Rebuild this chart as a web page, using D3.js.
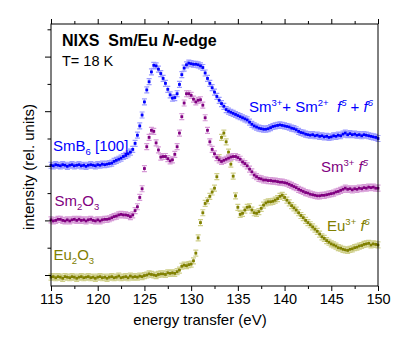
<!DOCTYPE html>
<html>
<head>
<meta charset="utf-8">
<script src="https://d3js.org/d3.v7.min.js"></script>
<style>
  body { margin: 0; background: #fff; }
  text { font-family: "Liberation Sans", Arial, Helvetica, sans-serif; }
</style>
</head>
<body>
<div id="chartContainer"></div>
<script>
// energy grid of the scans (eV), 0.25 eV steps from 115 to 150
var energy = d3.range(0, 141).map(function (i) { return 115 + i * 0.25; });

// intensities (rel. units, curves offset by 1)
// one row per eV: E, E+0.25, E+0.5, E+0.75
var smb6 = [
  2.01, 2.00, 2.02, 2.01,  2.00, 2.02, 2.01, 1.99,  2.01, 2.02, 2.00, 2.01,
  2.02, 2.00, 2.01, 1.99,  2.01, 2.02, 2.01, 2.00,  2.02, 2.01, 2.03, 2.02,
  2.03, 2.04, 2.05, 2.08,  2.10, 2.12, 2.14, 2.17,  2.19, 2.22, 2.25, 2.30,
  2.41, 2.56, 2.73, 2.93,  3.17, 3.39, 3.54, 3.72,  3.84, 3.83, 3.77, 3.69,
  3.60, 3.51, 3.40, 3.30,  3.24, 3.25, 3.32, 3.49,  3.67, 3.79, 3.85, 3.88,
  3.87, 3.86, 3.86, 3.85,  3.83, 3.80, 3.70, 3.60,  3.51, 3.43, 3.35, 3.27,
  3.20, 3.14, 3.09, 3.03,  3.00, 2.98, 2.96, 2.94,  2.92, 2.90, 2.88, 2.86,
  2.84, 2.80, 2.76, 2.73,  2.71, 2.69, 2.68, 2.67,  2.67, 2.68, 2.70, 2.72,
  2.73, 2.74, 2.75, 2.74,  2.73, 2.72, 2.71, 2.69,  2.68, 2.66, 2.63, 2.61,
  2.60, 2.58, 2.57, 2.56,  2.57, 2.55, 2.56, 2.54,  2.55, 2.53, 2.54, 2.52,
  2.53, 2.55, 2.54, 2.56,  2.55, 2.58, 2.60, 2.57,  2.59, 2.57, 2.58, 2.56,
  2.57, 2.55, 2.57, 2.56,  2.55, 2.54, 2.53, 2.52,
  2.50
];

var sm2o3 = [
  1.01, 0.99, 1.00, 1.02,  1.02, 1.00, 0.99, 1.01,  0.99, 1.01, 1.02, 1.00,
  1.02, 1.00, 1.01, 0.99,  1.01, 1.02, 1.00, 0.99,  1.01, 0.99, 1.01, 1.02,
  1.02, 1.03, 1.05, 1.07,  1.08, 1.10, 1.11, 1.10,  1.10, 1.09, 1.07, 1.10,
  1.18, 1.25, 1.42, 1.58,  1.95, 2.35, 2.52, 2.65,  2.63, 2.42, 2.29, 2.16,
  2.17, 2.17, 2.13, 2.09,  2.11, 2.21, 2.35, 2.60,  2.90, 3.15, 3.32, 3.32,
  3.29, 3.22, 3.17, 3.20,  3.21, 3.11, 2.88, 2.65,  2.44, 2.30, 2.22, 2.15,
  2.11, 2.08, 2.10, 2.12,  2.14, 2.16, 2.17, 2.17,  2.15, 2.12, 2.07, 2.04,
  2.00, 1.94, 1.89, 1.83,  1.80, 1.77, 1.76, 1.74,  1.74, 1.73, 1.73, 1.72,
  1.72, 1.71, 1.70, 1.70,  1.69, 1.68, 1.66, 1.64,  1.62, 1.60, 1.57, 1.55,
  1.53, 1.51, 1.50, 1.48,  1.47, 1.46, 1.45, 1.45,  1.46, 1.46, 1.47, 1.48,
  1.49, 1.50, 1.52, 1.53,  1.55, 1.57, 1.59, 1.57,  1.58, 1.56, 1.58, 1.57,
  1.59, 1.58, 1.60, 1.59,  1.61, 1.60, 1.61, 1.59,
  1.59
];

var eu2o3 = [
  -0.04, -0.03, -0.05, -0.03,  -0.04, -0.06, -0.03, -0.04,  -0.05, -0.03, -0.04, -0.06,
  -0.04, -0.03, -0.05, -0.04,  -0.03, -0.05, -0.04, -0.06,  -0.04, -0.03, -0.05, -0.04,
  -0.06, -0.04, -0.03, -0.05,  -0.04, -0.02, -0.05, -0.04,  -0.03, -0.05, -0.02, -0.04,
  -0.03, -0.04, -0.02, -0.03,  -0.01, 0.00, 0.02, 0.01,  0.00, -0.01, 0.01, 0.02,
  0.02, 0.01, 0.04, 0.03,  0.04, 0.03, 0.06, 0.09,  0.16, 0.18, 0.17, 0.19,
  0.20, 0.26, 0.40, 0.68,  0.96, 1.14, 1.31, 1.36,  1.44, 1.52, 1.59, 1.80,
  2.15, 2.52, 2.60, 2.44,  2.25, 2.03, 1.81, 1.45,  1.24, 1.11, 1.13, 1.19,
  1.24, 1.25, 1.19, 1.14,  1.13, 1.16, 1.22, 1.28,  1.32, 1.34, 1.34, 1.35,
  1.37, 1.40, 1.44, 1.46,  1.42, 1.37, 1.32, 1.27,  1.23, 1.19, 1.14, 1.09,
  1.05, 1.00, 0.96, 0.92,  0.88, 0.84, 0.80, 0.75,  0.70, 0.67, 0.63, 0.60,
  0.57, 0.55, 0.53, 0.50,  0.49, 0.47, 0.46, 0.45,  0.47, 0.48, 0.50, 0.51,
  0.53, 0.54, 0.56, 0.57,  0.58, 0.55, 0.57, 0.56,
  0.55
];

var xTicks = [115, 120, 125, 130, 135, 140, 145, 150];
var xMinor = [117.5, 122.5, 127.5, 132.5, 137.5, 142.5, 147.5];
var yTicks = [0, 1, 2, 3, 4];
var yMinor = [0.5, 1.5, 2.5, 3.5, 4.5];

var width = 411, height = 348;
var plotL = 51, plotR = 378, plotT = 24, plotB = 286;

var svg = d3.select("#chartContainer").append("svg")
  .attr("width", width).attr("height", height);

var x = d3.scaleLinear().domain([115, 150]).range([plotL, plotR]);
var y = d3.scaleLinear().domain([0, 4]).range([275, 56.6]);

// series: dark marker colour and lighter error bar colour
var series = [
  { values: eu2o3, dark: "#808000", light: "#cfcf8a" },
  { values: sm2o3, dark: "#800080", light: "#d69ad6" },
  { values: smb6,  dark: "#0000ff", light: "#9c9cff" }
];

series.forEach(function (s) {
  var g = svg.append("g");
  var pts = energy.map(function (e, i) { return [x(e), y(s.values[i])]; });
  g.selectAll("path.err").data(pts).enter().append("path")
    .attr("d", function (d) {
      return "M" + (d[0] - 2.5) + "," + (d[1] - 3) + "h5" +
             "M" + d[0] + "," + (d[1] - 3) + "v6" +
             "M" + (d[0] - 2.5) + "," + (d[1] + 3) + "h5";
    })
    .attr("fill", "none")
    .attr("stroke", s.light)
    .attr("stroke-width", 1.2);
  g.selectAll("rect").data(pts).enter().append("rect")
    .attr("x", function (d) { return d[0] - 1.4; })
    .attr("y", function (d) { return d[1] - 1.4; })
    .attr("width", 2.8).attr("height", 2.8)
    .attr("fill", s.dark);
});

// frame
svg.append("rect")
  .attr("x", plotL).attr("y", plotT)
  .attr("width", plotR - plotL).attr("height", plotB - plotT)
  .attr("fill", "none").attr("stroke", "#000").attr("stroke-width", 1);

function ticks(axis, tickValues, size, tx, ty, fmt) {
  var g = svg.append("g")
    .attr("transform", "translate(" + tx + "," + ty + ")")
    .call(axis.tickValues(tickValues).tickSize(size).tickFormat(fmt || ""));
  g.select(".domain").remove();
  g.selectAll("line").attr("stroke", "#000");
  return g;
}

var xAxis = ticks(d3.axisBottom(x), xTicks, 5, 0, plotB, d3.format("d"));
xAxis.selectAll("text")
  .attr("y", 8)
  .attr("font-size", "14.5px")
  .attr("fill", "#000")
  .style("font-family", "'Liberation Sans', Arial, sans-serif");
ticks(d3.axisBottom(x), xMinor, 3, 0, plotB);
ticks(d3.axisTop(x), xTicks, 5, 0, plotT);
ticks(d3.axisTop(x), xMinor, 3, 0, plotT);

ticks(d3.axisLeft(y), yTicks, 6, plotL, 0);
ticks(d3.axisLeft(y), yMinor.filter(function (v) {
  return y(v) > plotT && y(v) < plotB;
}), 3.5, plotL, 0);

// axis titles
svg.append("text")
  .attr("x", 200).attr("y", 325)
  .attr("text-anchor", "middle")
  .attr("font-size", "15px")
  .text("energy transfer (eV)");

svg.append("text")
  .attr("transform", "translate(34,167) rotate(-90)")
  .attr("text-anchor", "middle")
  .attr("font-size", "15px")
  .text("intensity (rel. units)");

// title block
var title = svg.append("text")
  .attr("x", 62).attr("y", 46)
  .attr("font-size", "16px")
  .attr("font-weight", "bold")
  .style("white-space", "pre");
title.append("tspan").text("NIXS  Sm/Eu ");
title.append("tspan").attr("font-style", "italic").text("N");
title.append("tspan").text("-edge");

svg.append("text")
  .attr("x", 62).attr("y", 66)
  .attr("font-size", "14.5px")
  .text("T= 18 K");

// labels with sub/superscripts: parts are [text, kind]
function label(px, py, color, parts) {
  var t = svg.append("text")
    .attr("x", px).attr("y", py)
    .attr("fill", color)
    .attr("font-size", "15px")
    .style("white-space", "pre");
  var shift = 0;
  parts.forEach(function (p) {
    var target = p[1] === "sub" ? 4 : (p[1] === "sup" || p[1] === "isup") ? -6 : 0;
    var sp = t.append("tspan")
      .attr("dy", target - shift)
      .attr("font-size", target === 0 ? "15px" : "9.5px")
      .text(p[0]);
    if (p[1] === "i" || p[1] === "isup") sp.attr("font-style", "italic");
    shift = target;
  });
}

label(53, 151, "#0000ff", [["SmB", ""], ["6", "sub"], [" [100]", ""]]);
label(54.5, 206, "#800080", [["Sm", ""], ["2", "sub"], ["O", ""], ["3", "sub"]]);
label(53.5, 260, "#808000", [["Eu", ""], ["2", "sub"], ["O", ""], ["3", "sub"]]);

label(249, 112, "#0000ff", [["Sm", ""], ["3+", "sup"], ["+ Sm", ""], ["2+", "sup"],
  ["  ", ""], ["f", "i"], ["5", "isup"], [" + ", ""], ["f", "i"], ["6", "isup"]]);
label(321, 172, "#800080", [["Sm", ""], ["3+", "sup"], [" ", ""], ["f", "i"], ["5", "isup"]]);
label(327, 231, "#808000", [["Eu", ""], ["3+", "sup"], [" ", ""], ["f", "i"], ["6", "isup"]]);
</script>
</body>
</html>
